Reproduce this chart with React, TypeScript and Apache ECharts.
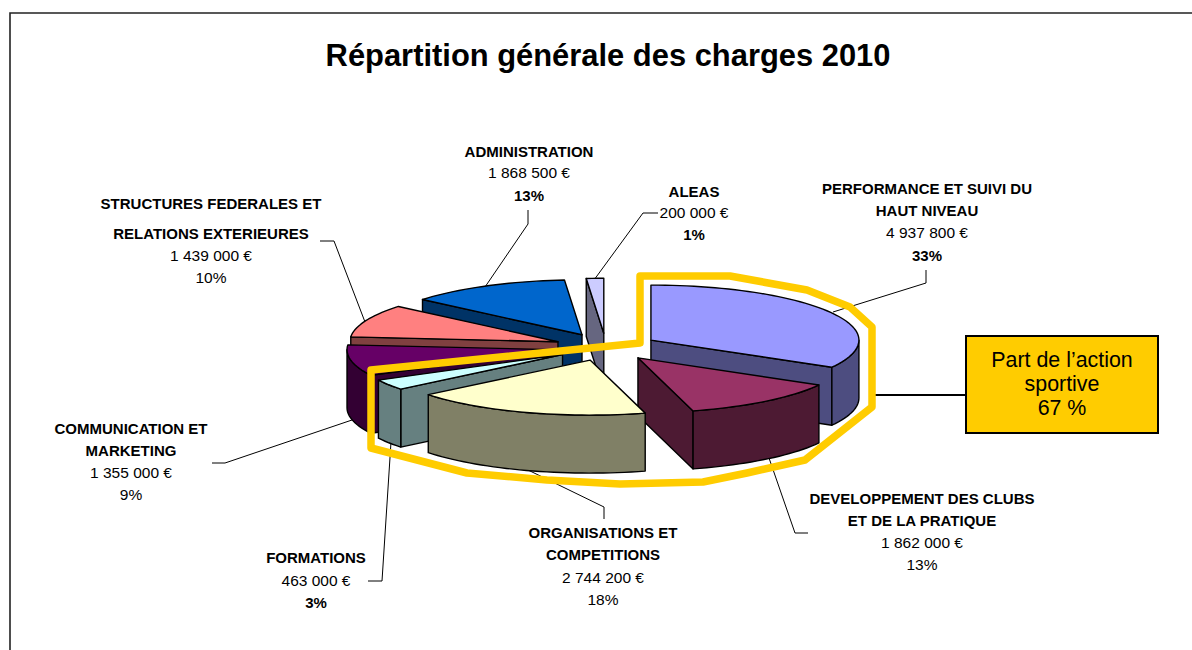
import React, { useEffect, useRef } from "react";
import * as echarts from "echarts";

const titleText = "Répartition générale des charges 2010";
const categories = [
  "PERFORMANCE ET SUIVI DU HAUT NIVEAU",
  "DEVELOPPEMENT DES CLUBS ET DE LA PRATIQUE",
  "ORGANISATIONS ET COMPETITIONS",
  "FORMATIONS",
  "COMMUNICATION ET MARKETING",
  "STRUCTURES FEDERALES ET RELATIONS EXTERIEURES",
  "ADMINISTRATION",
  "ALEAS",
];
const amounts = [4937800, 1862000, 2744200, 463000, 1355000, 1439000, 1868500, 200000];
const topColors = ["#9999FF", "#993366", "#FFFFCC", "#CCFFFF", "#660066", "#FF8080", "#0066CC", "#CCCCFF"];
const sideColors = ["#4D4D80", "#4D1A33", "#808066", "#668080", "#330033", "#804040", "#003366", "#666680"];
const paintOrder = [6, 7, 8, 5, 4, 3, 2, 1]; // back-to-front rank per slice

const PIE = { cx: 606, cy: 347, rx: 208, ry: 55, depth: 58, explode: 0.25 };
const FONT = "Liberation Sans, Arial, sans-serif";

type Line = [string, number, boolean];
const labelBlocks: { x: number; lines: Line[] }[] = [
  { x: 927, lines: [["PERFORMANCE ET SUIVI DU", 188, true], ["HAUT NIVEAU", 210, true], ["4 937 800 €", 232, false], ["33%", 255, true]] },
  { x: 922, lines: [["DEVELOPPEMENT DES CLUBS", 498, true], ["ET DE LA PRATIQUE", 520, true], ["1 862 000 €", 542, false], ["13%", 564, false]] },
  { x: 603, lines: [["ORGANISATIONS ET", 532, true], ["COMPETITIONS", 554, true], ["2 744 200 €", 577, false], ["18%", 599, false]] },
  { x: 316, lines: [["FORMATIONS", 557, true], ["463 000 €", 580, false], ["3%", 602, true]] },
  { x: 131, lines: [["COMMUNICATION ET", 428, true], ["MARKETING", 450, true], ["1 355 000 €", 472, false], ["9%", 494, false]] },
  { x: 211, lines: [["STRUCTURES FEDERALES ET", 203, true], ["RELATIONS EXTERIEURES", 233, true], ["1 439 000 €", 255, false], ["10%", 277, false]] },
  { x: 529, lines: [["ADMINISTRATION", 151, true], ["1 868 500 €", 172, false], ["13%", 195, true]] },
  { x: 694, lines: [["ALEAS", 191, true], ["200 000 €", 212, false], ["1%", 234, true]] },
];
const leaders: number[][][] = [
  [[926, 270], [926, 283], [833, 312]],
  [[769, 458], [795, 533], [808, 533]],
  [[604, 519], [604, 507], [528, 470]],
  [[368, 581], [382, 581], [391, 442]],
  [[212, 463], [225, 463], [352, 420]],
  [[320, 241], [334, 241], [365, 322]],
  [[528, 210], [528, 224], [485, 287]],
  [[658, 213], [643, 213], [594, 280]],
];
const highlightOutline = [
  [640, 276], [730, 276], [807, 290], [850, 307], [872, 327], [872, 407], [805, 460],
  [747, 473], [703, 482], [620, 484], [547, 480], [467, 473], [371, 448], [371, 370], [640, 343],
];
const calloutLines = ["Part de l’action", "sportive", "67 %"];

const total = amounts.reduce((a, b) => a + b, 0);
const rad = (d: number) => (d * Math.PI) / 180;

function renderSlice(params: any, api: any) {
  const i = params.dataIndex;
  const before = amounts.slice(0, i).reduce((a, b) => a + b, 0);
  const a0 = (before / total) * 360;
  const a1 = a0 + (api.value(0) / total) * 360;
  const mid = rad((a0 + a1) / 2);
  const { cx, cy, rx, ry, depth, explode } = PIE;
  const ax = cx + explode * rx * Math.sin(mid);
  const ay = cy - explode * ry * Math.cos(mid);
  const pt = (deg: number, dz = 0) => [ax + rx * Math.sin(rad(deg)), ay - ry * Math.cos(rad(deg)) + dz];
  const arc = (from: number, to: number, dz = 0) => {
    const n = Math.max(2, Math.ceil((to - from) / 2));
    return Array.from({ length: n + 1 }, (_, k) => pt(from + ((to - from) * k) / n, dz));
  };
  const base = paintOrder[i] * 10;
  const line = { stroke: "#000", lineWidth: 1.4, lineJoin: "round" as const };
  const children: any[] = [];
  const wall = (deg: number, z: number) => {
    children.push({
      type: "polygon",
      z2: base + z,
      shape: { points: [[ax, ay], pt(deg), pt(deg, depth), [ax, ay + depth]] },
      style: { fill: sideColors[i], ...line },
    });
  };
  if (a0 > 180 && a0 < 360) wall(a0, 1);
  if (a1 > 0 && a1 < 180) wall(a1, 2);
  const from = Math.max(a0, 90);
  const to = Math.min(a1, 270);
  if (to > from) {
    children.push({
      type: "polygon",
      z2: base + 3,
      shape: { points: [...arc(from, to), ...arc(from, to, depth).reverse()] },
      style: { fill: sideColors[i], ...line },
    });
  }
  children.push({
    type: "polygon",
    z2: base + 4,
    shape: { points: [[ax, ay], ...arc(a0, a1)] },
    style: { fill: topColors[i], ...line },
  });
  return { type: "group", children };
}

function buildGraphics() {
  const els: any[] = [];
  els.push({
    type: "rect", z: 0,
    shape: { x: 10, y: 13, width: 1200, height: 660 },
    style: { fill: "#fff", stroke: "#222", lineWidth: 1.6 },
  });
  els.push({
    type: "text", z: 5, x: 608, y: 55,
    style: { text: titleText, font: `bold 30.9px ${FONT}`, fill: "#000", align: "center", verticalAlign: "middle" },
  });
  labelBlocks.forEach((b) =>
    b.lines.forEach(([text, y, bold]) =>
      els.push({
        type: "text", z: 5, x: b.x, y,
        style: {
          text,
          font: `${bold ? "bold " : ""}${bold ? 15 : 15.5}px ${FONT}`,
          fill: "#000", align: "center", verticalAlign: "middle",
        },
      })
    )
  );
  leaders.forEach((pts) =>
    els.push({
      type: "polyline", z: 1,
      shape: { points: pts },
      style: { stroke: "#000", lineWidth: 1, fill: "none" },
    })
  );
  els.push({
    type: "polygon", z: 10,
    shape: { points: highlightOutline },
    style: { fill: "none", stroke: "#FFCC00", lineWidth: 7.5, lineJoin: "round" },
  });
  els.push({
    type: "line", z: 9,
    shape: { x1: 875, y1: 395, x2: 966, y2: 395 },
    style: { stroke: "#000", lineWidth: 2 },
  });
  els.push({
    type: "rect", z: 10,
    shape: { x: 966, y: 336, width: 192, height: 97 },
    style: { fill: "#FFCC00", stroke: "#000", lineWidth: 2 },
  });
  calloutLines.forEach((text, k) =>
    els.push({
      type: "text", z: 11, x: 1062, y: 360 + k * 24,
      style: { text, font: `21.4px ${FONT}`, fill: "#000", align: "center", verticalAlign: "middle" },
    })
  );
  return els;
}

export default function App() {
  const ref = useRef<HTMLDivElement>(null);
  useEffect(() => {
    const chart = echarts.init(ref.current!, undefined, { renderer: "svg" });
    chart.setOption({
      animation: false,
      backgroundColor: "#fff",
      graphic: { elements: buildGraphics() },
      series: [
        {
          type: "custom",
          coordinateSystem: "none",
          name: "Charges 2010",
          z: 3,
          silent: true,
          renderItem: renderSlice,
          data: amounts.map((value, i) => ({ name: categories[i], value: [value] })),
        },
      ],
    });
    return () => chart.dispose();
  }, []);
  return <div ref={ref} style={{ position: "fixed", left: 0, top: 0, width: 1192, height: 650 }} />;
}
